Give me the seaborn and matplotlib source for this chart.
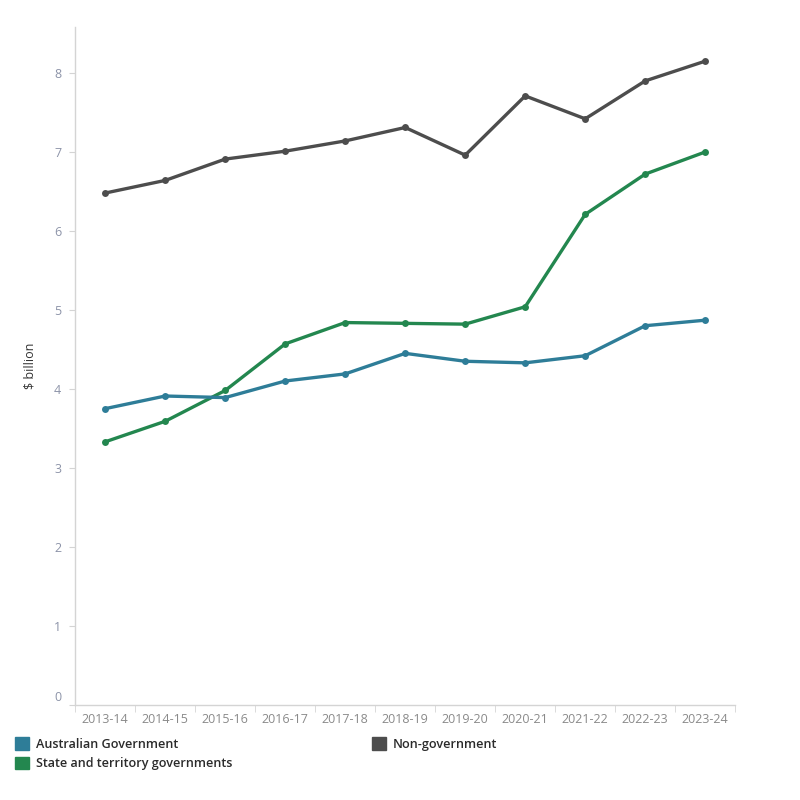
import matplotlib
matplotlib.use("Agg")
import matplotlib.pyplot as plt
import matplotlib.patches as mpatches
import matplotlib.transforms as mtransforms
from matplotlib.ticker import FixedLocator
import seaborn as sns
import pandas as pd

years = ['2013-14', '2014-15', '2015-16', '2016-17', '2017-18', '2018-19',
         '2019-20', '2020-21', '2021-22', '2022-23', '2023-24']
australian_gov = [3.75, 3.91, 3.89, 4.10, 4.19, 4.45, 4.35, 4.33, 4.42, 4.80, 4.87]
state_territory = [3.33, 3.59, 3.98, 4.57, 4.84, 4.83, 4.82, 5.04, 6.21, 6.72, 7.00]
non_gov = [6.48, 6.64, 6.91, 7.01, 7.14, 7.31, 6.96, 7.71, 7.42, 7.90, 8.15]

series = ['Australian Government', 'State and territory governments', 'Non-government']
colors = {'Australian Government': '#2e7d98',
          'State and territory governments': '#23874f',
          'Non-government': '#4d4d4d'}

df = pd.DataFrame({'year': years * 3,
                   'value': australian_gov + state_territory + non_gov,
                   'series': [series[0]] * 11 + [series[1]] * 11 + [series[2]] * 11})

sns.set_style('white')
plt.rcParams['font.family'] = ['Open Sans', 'DejaVu Sans']

fig = plt.figure(figsize=(8, 8), dpi=100)
ax = fig.add_axes([0.094, 0.119, 0.825, 0.847])

sns.lineplot(data=df, x='year', y='value', hue='series', hue_order=series[::-1],
             palette=colors, marker='o', markersize=5, markeredgewidth=0,
             linewidth=2.4, legend=False, ax=ax)

ax.set_xlim(-0.5, 10.5)
ax.set_ylim(0, 8.58)
ax.set_yticks(range(0, 9))
ax.set_xlabel('')
ax.set_ylabel('$ billion', fontsize=9, color='#333333')
ax.yaxis.set_label_coords(-0.058, 0.5)

for s in ['top', 'right']:
    ax.spines[s].set_visible(False)
for s in ['left', 'bottom']:
    ax.spines[s].set_color('#d4d4d4')
    ax.spines[s].set_linewidth(1)

ax.tick_params(axis='y', which='major', length=4, color='#d4d4d4',
               labelsize=9, labelcolor='#8c93a8', pad=6, left=True)
ax.tick_params(axis='x', which='major', length=0, labelsize=9,
               labelcolor='#8a8a8a', pad=6)
ax.xaxis.set_minor_locator(FixedLocator([i - 0.5 for i in range(12)]))
ax.tick_params(axis='x', which='minor', length=5, color='#d4d4d4', bottom=True)

# nudge the "0" label up off the axis line, as in the original
zero_lab = ax.get_yticklabels()[0]
zero_lab.set_transform(zero_lab.get_transform() +
                       mtransforms.ScaledTranslation(0, 6 / 72, fig.dpi_scale_trans))

handles = [mpatches.Patch(color=colors[s], label=s) for s in series]
fig.legend(handles=handles, loc='upper left', bbox_to_anchor=(0.012, 0.085),
           ncol=2, frameon=False, fontsize=9.1, handlelength=1.15,
           handleheight=1.15, handletextpad=0.55, columnspacing=11.0,
           labelspacing=0.5, borderaxespad=0)
for t in fig.legends[0].get_texts():
    t.set_color('#2b2b2b')
    t.set_fontweight('semibold')

fig.savefig('out.png', dpi=100)
